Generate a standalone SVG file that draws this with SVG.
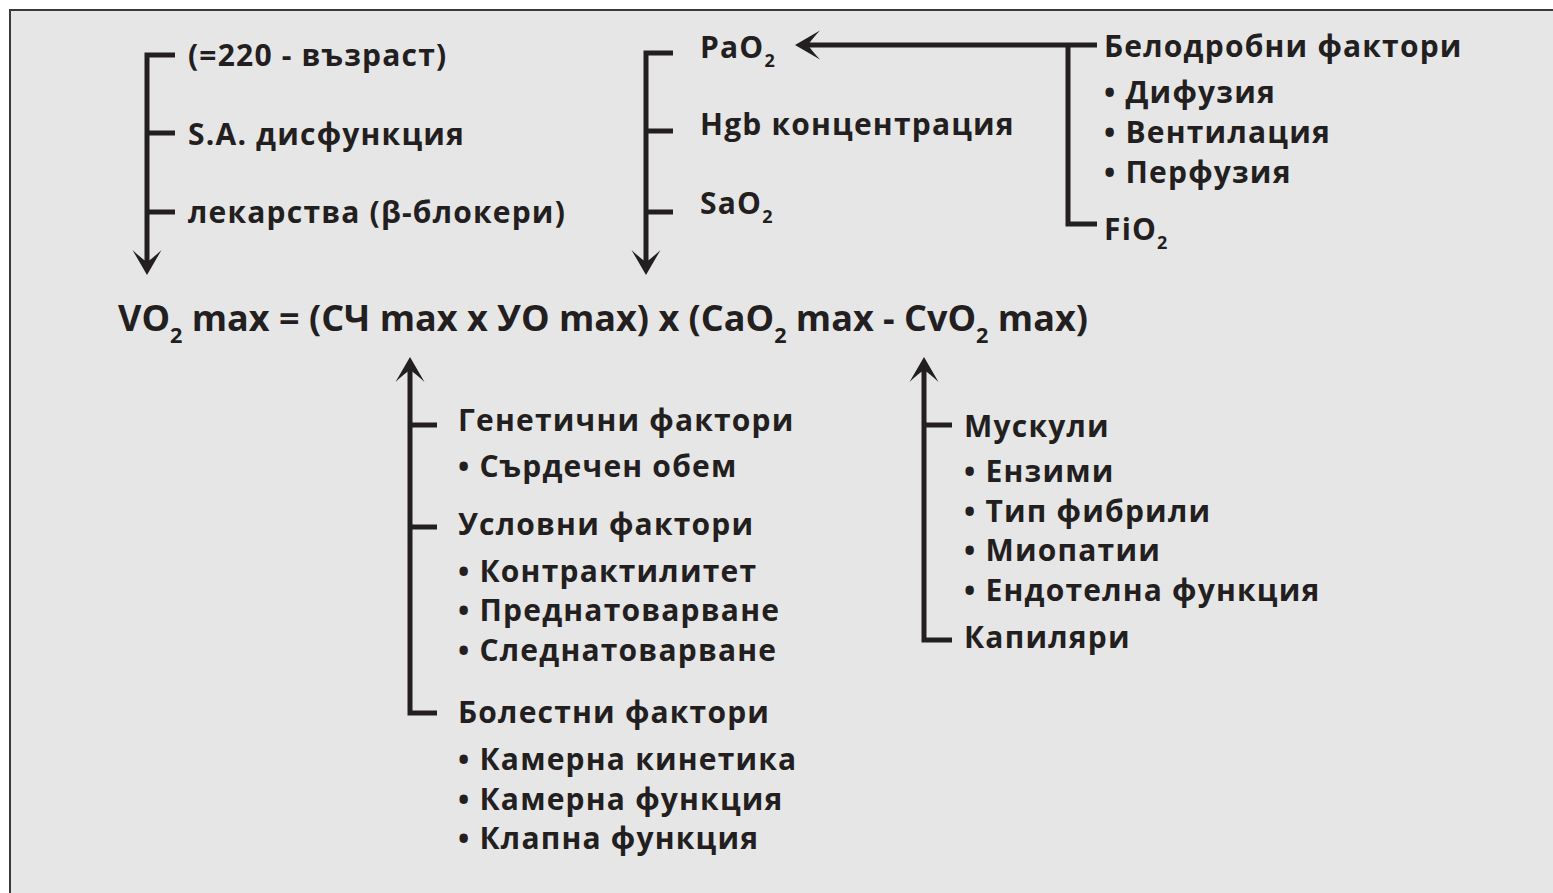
<svg xmlns="http://www.w3.org/2000/svg" xmlns:xlink="http://www.w3.org/1999/xlink" width="1553" height="893" viewBox="0 0 1553 893">
  <style>
    .t { font-family: "Open Sans", "Noto Sans", "DejaVu Sans", sans-serif; font-weight: 700; font-size: 30px; letter-spacing: 1.2px; fill: #231f20; }
    .f { font-family: "Open Sans", "Noto Sans", "DejaVu Sans", sans-serif; font-weight: 700; font-size: 36px; fill: #231f20; }
    .sub { font-size: 60%; letter-spacing: 0; }
    .ln { fill: none; stroke: #231f20; stroke-width: 5; stroke-linecap: butt; stroke-linejoin: miter; }
    .ah { fill: #231f20; }
  </style>
  <defs>
    <!-- barbed arrowhead, tip at origin, pointing down -->
    <path id="head" d="M0,0 L-14.5,-25 Q-6,-17 0,-13 Q6,-17 14.5,-25 Z"/>
  </defs>

  <!-- panel -->
  <rect x="0" y="0" width="1553" height="893" fill="#ffffff"/>
  <rect x="10" y="10" width="1543" height="883" fill="#e6e6e6"/>
  <line x1="9" y1="10" x2="1553" y2="10" stroke="#3a3a3a" stroke-width="2"/>
  <line x1="10" y1="9" x2="10" y2="893" stroke="#3a3a3a" stroke-width="2"/>

  <g id="connectors">
    <!-- heart-rate factors -->
    <path class="ln" d="M175,55 H147 V262 M147,133 H175 M147,212 H175"/>
    <use class="ah" xlink:href="#head" transform="translate(147,275)"/>
    <!-- oxygen content factors -->
    <path class="ln" d="M673,53 H646 V262 M646,131 H673 M646,212 H673"/>
    <use class="ah" xlink:href="#head" transform="translate(646,275)"/>
    <!-- pulmonary factors to PaO2 -->
    <path class="ln" d="M1097,45 H808 M1097,224 H1068 V45"/>
    <use class="ah" xlink:href="#head" transform="translate(795,45) rotate(90)"/>
    <!-- stroke volume factors -->
    <path class="ln" d="M437,425 H410 V713 H437 M410,527 H437 M410,713 V370"/>
    <use class="ah" xlink:href="#head" transform="translate(410,357) rotate(180)"/>
    <!-- peripheral factors -->
    <path class="ln" d="M952,425 H924 V640 H952 M924,640 V370"/>
    <use class="ah" xlink:href="#head" transform="translate(924,357) rotate(180)"/>
  </g>

  <g id="node-formula">
    <text class="f" x="118" y="331">VO<tspan class="sub" dy="12">2</tspan><tspan dy="-12"> max = (СЧ max x УО max) x (CaO</tspan><tspan class="sub" dy="12">2</tspan><tspan dy="-12"> max - CvO</tspan><tspan class="sub" dy="12">2</tspan><tspan dy="-12"> max)</tspan></text>
  </g>

  <g id="node-heart-rate">
    <text class="t" x="188" y="66">(=220 - възраст)</text>
    <text class="t" x="188" y="145">S.A. дисфункция</text>
    <text class="t" x="188" y="223">лекарства (β-блокери)</text>
  </g>

  <g id="node-oxygen">
    <text class="t" x="700" y="58">PaO<tspan class="sub" dy="9">2</tspan></text>
    <text class="t" x="700" y="135">Hgb концентрация</text>
    <text class="t" x="700" y="214">SaO<tspan class="sub" dy="9">2</tspan></text>
  </g>

  <g id="node-pulmonary">
    <text class="t" x="1104" y="57">Белодробни фактори</text>
    <text class="t" x="1104" y="103">• Дифузия</text>
    <text class="t" x="1104" y="143">• Вентилация</text>
    <text class="t" x="1104" y="183">• Перфузия</text>
    <text class="t" x="1104" y="240">FiO<tspan class="sub" dy="9">2</tspan></text>
  </g>

  <g id="node-stroke-volume">
    <text class="t" x="458" y="431">Генетични фактори</text>
    <text class="t" x="458" y="477">• Сърдечен обем</text>
    <text class="t" x="458" y="535">Условни фактори</text>
    <text class="t" x="458" y="582">• Контрактилитет</text>
    <text class="t" x="458" y="621">• Преднатоварване</text>
    <text class="t" x="458" y="661">• Следнатоварване</text>
    <text class="t" x="458" y="723">Болестни фактори</text>
    <text class="t" x="458" y="770">• Камерна кинетика</text>
    <text class="t" x="458" y="810">• Камерна функция</text>
    <text class="t" x="458" y="849">• Клапна функция</text>
  </g>

  <g id="node-peripheral">
    <text class="t" x="964" y="437">Мускули</text>
    <text class="t" x="964" y="482">• Ензими</text>
    <text class="t" x="964" y="522">• Тип фибрили</text>
    <text class="t" x="964" y="561">• Миопатии</text>
    <text class="t" x="964" y="601">• Ендотелна функция</text>
    <text class="t" x="964" y="648">Капиляри</text>
  </g>
</svg>
